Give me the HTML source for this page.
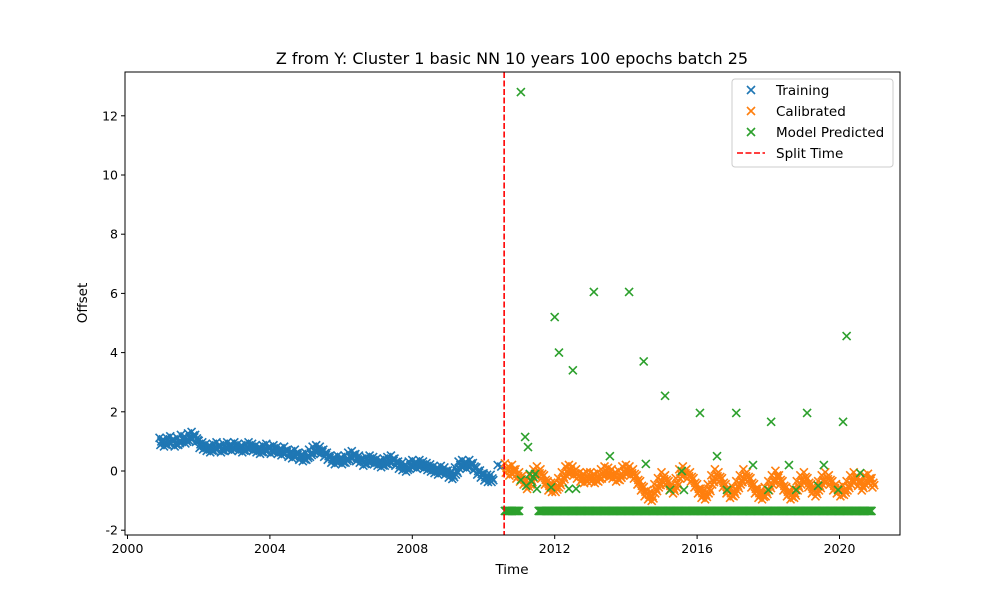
<!DOCTYPE html>
<html><head><meta charset="utf-8"><style>
body{margin:0;background:#fff}
svg text{font-family:"DejaVu Sans","Liberation Sans",sans-serif;fill:#000}
</style></head><body>
<svg id="chart" width="1000" height="600" xmlns="http://www.w3.org/2000/svg">
<rect width="1000" height="600" fill="#fff"/>
<text x="512" y="64" font-size="16" text-anchor="middle">Z from Y: Cluster 1 basic NN 10 years 100 epochs batch 25</text>
<g id="marks"></g>
<g id="axes"></g>
<text x="512" y="574" font-size="13.5" text-anchor="middle">Time</text>
<text x="87" y="303" font-size="13.5" text-anchor="middle" transform="rotate(-90 87 303)">Offset</text>
<g>
<rect x="732" y="79" width="161" height="88" rx="3" fill="#fff" fill-opacity="0.8" stroke="#ccc"/>
<g><path d="M747 86l8 8M755 86l-8 8" stroke="#1f77b4" stroke-width="1.6"/><text x="776" y="95" font-size="13.5">Training</text></g>
<g><path d="M747 107l8 8M755 107l-8 8" stroke="#ff7f0e" stroke-width="1.6"/><text x="776" y="116" font-size="13.5">Calibrated</text></g>
<g><path d="M747 128l8 8M755 128l-8 8" stroke="#2ca02c" stroke-width="1.6"/><text x="776" y="137" font-size="13.5">Model Predicted</text></g>
<g><path d="M737 153h28" stroke="red" stroke-width="1.6" stroke-dasharray="6,2.5"/><text x="776" y="158" font-size="13.5">Split Time</text></g>
</g>
</svg>
<script>
const trainStart = 2000.9;
const trainValues = [1.0,0.95,1.0,1.05,0.95,1.0,1.1,1.05,1.15,1.2,1.1,
0.9,0.85,0.8,0.75,0.8,0.85,0.75,0.8,0.85,0.8,
0.85,0.8,0.75,0.8,0.85,0.8,0.75,0.7,0.75,0.8,
0.7,0.75,0.7,0.65,0.7,0.6,0.55,0.6,0.5,0.45,
0.5,0.6,0.7,0.75,0.7,0.6,0.5,0.4,0.35,0.4,
0.35,0.4,0.5,0.55,0.45,0.4,0.3,0.35,0.4,0.35,
0.3,0.25,0.3,0.35,0.4,0.3,0.2,0.15,0.1,0.2,
0.25,0.2,0.25,0.2,0.15,0.1,0.05,0.0,0.05,0.0,
-0.1,-0.15,0.0,0.2,0.25,0.2,0.25,0.15,0.0,-0.1,
-0.2,-0.25,-0.25];
const trainExtraX = [2010.4,2010.5];
const trainExtraY = [0.2,0.15];
const calStart = 2010.6;
const calValues = [0.1,0.0,0.05,-0.1,
-0.2,-0.3,-0.45,-0.3,-0.1,0.0,-0.1,-0.3,-0.5,-0.55,
-0.55,-0.4,-0.2,0.0,0.05,0.0,-0.1,-0.2,-0.25,-0.2,
-0.2,-0.25,-0.2,-0.1,0.0,-0.05,-0.1,-0.2,-0.15,0.0,
0.05,0.0,-0.1,-0.3,-0.5,-0.7,-0.8,-0.85,-0.6,-0.4,
-0.2,-0.3,-0.5,-0.6,-0.4,-0.1,0.0,-0.1,-0.2,-0.4,
-0.6,-0.75,-0.8,-0.6,-0.3,-0.1,-0.2,-0.4,-0.6,-0.75,
-0.7,-0.5,-0.3,-0.1,-0.2,-0.4,-0.6,-0.75,-0.8,-0.7,
-0.5,-0.3,-0.15,-0.3,-0.5,-0.7,-0.8,-0.75,-0.5,-0.3,
-0.2,-0.4,-0.6,-0.7,-0.5,-0.3,-0.2,-0.3,-0.5,-0.6,
-0.7,-0.65,-0.5,-0.3,-0.2,-0.35,-0.5,-0.3,-0.25,-0.4];
const greenBaseRanges = [[2010.6,2011.0],[2011.55,2020.9]];
const greenBaseValue = -1.35;
const greenX = [2011.05,2011.17,2011.25,2012.0,2012.12,2012.51,2013.1,2013.55,2014.09,2014.5,2014.56,2015.1,2015.24,2015.57,2015.63,2016.08,2016.56,2016.84,2017.1,2017.57,2018.08,2018.0,2018.58,2018.78,2019.09,2019.56,2019.4,2020.1,2020.2,2019.96,2020.58,2011.05,2011.2,2011.3,2011.4,2011.5,2011.35,2011.45,2011.9,2012.4,2012.6];
const greenY = [12.8,1.15,0.81,5.2,4.0,3.4,6.05,0.5,6.05,3.7,0.24,2.54,-0.64,0.0,-0.64,1.96,0.5,-0.64,1.96,0.2,1.66,-0.64,0.2,-0.64,1.96,0.2,-0.5,1.66,4.56,-0.64,-0.07,-0.3,-0.5,-0.1,-0.2,-0.6,-0.35,-0.1,-0.55,-0.6,-0.6];
const xTicks = [2000,2004,2008,2012,2016,2020];
const yTicks = [-2,0,2,4,6,8,10,12];
const splitTime = 2010.58;

const NS="http://www.w3.org/2000/svg";
const L=125,R=900,T=72,B=535;
const sx=v=>127.5+(v-2000)*35.6;
const sy=v=>471-v*29.6;
const marks=document.getElementById('marks');
const axes=document.getElementById('axes');
function mk(tag,attrs,parent){const e=document.createElementNS(NS,tag);for(const k in attrs)e.setAttribute(k,attrs[k]);parent.appendChild(e);return e;}
function cross(x,y,c,name){
  const p=mk('path',{d:`M${sx(x)-4} ${sy(y)-4}l8 8M${sx(x)+4} ${sy(y)-4}l-8 8`,stroke:c,'stroke-width':1.6,fill:'none'},marks);
  
  
}
const subDx=[0,0.025,0.05,0.075];
const subDy=[0.12,-0.12,0.0,-0.06];
trainValues.forEach((v,i)=>{const x=trainStart+i*0.1;subDx.forEach((d,k)=>cross(x+d,v+subDy[k],'#1f77b4','training-point'));});
trainExtraX.forEach((x,i)=>cross(x,trainExtraY[i],'#1f77b4','training-point'));
calValues.forEach((v,i)=>{const x=calStart+i*0.1;subDx.forEach((d,k)=>cross(x+d,v+subDy[k]*1.3,'#ff7f0e','calibrated-point'));});
greenBaseRanges.forEach(r=>{for(let x=r[0];x<=r[1]+1e-6;x+=0.025){cross(x,greenBaseValue,'#2ca02c','predicted-point');}});
greenX.forEach((x,i)=>cross(x,greenY[i],'#2ca02c','predicted-point'));
const sl=mk('line',{x1:sx(splitTime),x2:sx(splitTime),y1:T,y2:B,stroke:'red','stroke-width':1.6,'stroke-dasharray':'6,2.5'},marks);


const fr=mk('rect',{x:L,y:T,width:R-L,height:B-T,fill:'none',stroke:'#000','stroke-width':1},axes);


xTicks.forEach(t=>{
  mk('line',{x1:sx(t),x2:sx(t),y1:B,y2:B+4,stroke:'#000'},axes);
  const tx=mk('text',{x:sx(t),y:B+18,'font-size':12.5,'text-anchor':'middle'},axes);tx.textContent=t;
  
  
});
yTicks.forEach(t=>{
  mk('line',{x1:L-4,x2:L,y1:sy(t),y2:sy(t),stroke:'#000'},axes);
  const tx=mk('text',{x:L-7,y:sy(t)+4.5,'font-size':12.5,'text-anchor':'end'},axes);tx.textContent=t;
  
  
});
</script>
</body></html>
